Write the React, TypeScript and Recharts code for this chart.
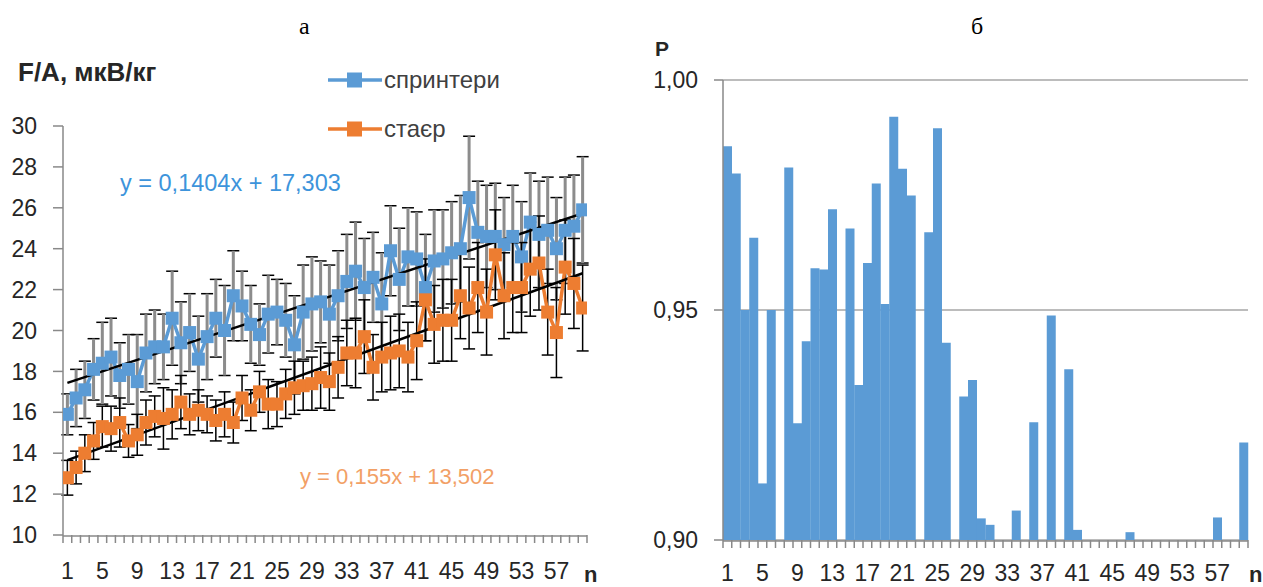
import React from 'react';
import { ComposedChart, Line, XAxis, YAxis, ErrorBar, ReferenceLine, Bar, CartesianGrid } from 'recharts';

// chart а: F/A by n
const sprinters = [15.9, 16.7, 17.1, 18.1, 18.4, 18.7, 17.8, 18.1, 17.5, 18.9, 19.2, 19.2, 20.6, 19.4, 19.9, 18.6, 19.7, 20.6, 20.0, 21.7,
  21.2, 20.3, 19.8, 20.8, 20.9, 20.5, 19.3, 20.9, 21.3, 21.4, 20.8, 21.7, 22.4, 22.9, 22.1, 22.6, 21.3, 23.9, 22.5, 23.6,
  23.5, 22.1, 23.4, 23.5, 23.8, 24.0, 26.5, 24.8, 24.6, 24.6, 24.2, 24.6, 23.6, 25.3, 24.7, 24.9, 24.0, 24.9, 25.1, 25.9];
const sprintersErr = [1.0, 1.4, 1.4, 1.5, 2.0, 1.9, 1.6, 1.7, 2.3, 1.9, 1.8, 1.6, 2.3, 2.0, 1.9, 2.1, 2.1, 1.9, 2.2, 2.2,
  1.7, 1.9, 1.5, 1.9, 1.6, 1.8, 2.4, 2.3, 2.3, 2.0, 2.4, 2.2, 2.3, 2.4, 2.4, 2.2, 2.5, 2.2, 2.5, 2.4,
  2.3, 2.6, 2.5, 2.4, 2.5, 2.6, 3.0, 2.5, 2.5, 2.6, 2.3, 2.5, 2.7, 2.4, 2.6, 2.6, 2.5, 2.6, 2.5, 2.6];
const stayer = [12.8, 13.3, 14.0, 14.6, 15.3, 15.2, 15.5, 14.6, 14.9, 15.5, 15.8, 15.7, 15.9, 16.5, 15.9, 16.1, 15.9, 15.6, 15.9, 15.5,
  16.7, 16.1, 17.0, 16.4, 16.4, 16.9, 17.2, 17.3, 17.4, 17.7, 17.5, 18.2, 18.9, 18.9, 19.7, 18.2, 18.7, 18.9, 19.0, 18.7,
  19.5, 21.5, 20.3, 20.5, 20.5, 21.7, 21.1, 22.1, 20.9, 23.7, 21.7, 22.1, 22.1, 23.0, 23.3, 20.9, 19.9, 23.1, 22.3, 21.1];
const stayerErr = [0.85, 0.8, 0.9, 0.9, 1.0, 1.1, 1.2, 0.8, 1.0, 1.1, 1.0, 1.5, 1.2, 1.3, 1.0, 1.0, 0.9, 1.0, 1.1, 1.0,
  1.1, 1.0, 1.0, 1.2, 1.1, 1.2, 1.3, 1.2, 1.3, 1.5, 1.4, 1.5, 1.6, 1.7, 1.8, 1.6, 1.7, 1.8, 1.8, 1.7,
  1.9, 2.0, 1.9, 2.0, 2.0, 2.1, 2.0, 2.2, 2.1, 2.2, 2.1, 2.2, 2.2, 2.3, 2.3, 2.1, 2.2, 2.3, 2.2, 2.1];
// trend lines, value at n = 1 and n = 60
const sprintersTrend = [17.44, 25.73];
const stayerTrend = [13.66, 22.80];

// chart б: P by n
const pValues = [0.9856, 0.9797, 0.950, 0.9657, 0.9123, 0.950, 0.900, 0.981, 0.9254, 0.9432,
  0.9591, 0.9588, 0.9719, 0.900, 0.9677, 0.9337, 0.9602, 0.9775, 0.9513, 0.992,
  0.9807, 0.9749, 0.900, 0.9669, 0.9895, 0.9429, 0.900, 0.9312, 0.9348, 0.9047,
  0.9033, 0.900, 0.900, 0.9064, 0.900, 0.9256, 0.900, 0.9488, 0.900, 0.9371,
  0.9022, 0.900, 0.900, 0.900, 0.900, 0.900, 0.9017, 0.900, 0.900, 0.900,
  0.900, 0.900, 0.900, 0.900, 0.900, 0.900, 0.9049, 0.900, 0.900, 0.9212];

const nValues = sprinters.map((_, i) => i + 1);
const xLabels = [1, 5, 9, 13, 17, 21, 25, 29, 33, 37, 41, 45, 49, 53, 57];
const xBounds = [0, ...nValues].map((v) => v + 0.5);
const leftTicks = [10, 12, 14, 16, 18, 20, 22, 24, 26, 28, 30];
const rightTicks = [0.9, 0.95, 1.0];

const BLUE = '#5B9BD5';
const ORANGE = '#ED7D31';
const AXIS = '#898989';
const FONT = '"Liberation Sans", Arial, sans-serif';
const tickStyle = { fontSize: 23, fill: '#262626', fontFamily: FONT };

const lineData = nValues.map((n, i) => ({
  n,
  sprinters: sprinters[i],
  sprintersErr: sprintersErr[i],
  stayer: stayer[i],
  stayerErr: stayerErr[i],
}));
const barData = nValues.map((n, i) => ({ n, p: pValues[i] }));

const squareDot = (color: string) => (props: any) => (
  <rect key={`d-${color}-${props.index}`} x={props.cx - 6.5} y={props.cy - 6.5} width={13} height={13} fill={color} />
);

const LegendItem = ({ color, label, top }: { color: string; label: string; top: number }) => (
  <div style={{ position: 'absolute', left: 328, top: top - 14, height: 28, display: 'flex', alignItems: 'center' }}>
    <svg width={54} height={28}>
      <line x1={0} y1={14} x2={54} y2={14} stroke={color} strokeWidth={3.5} />
      <rect x={19} y={6.5} width={15} height={15} fill={color} />
    </svg>
    <span style={{ fontFamily: FONT, fontSize: 24, color: '#404040', marginLeft: 2 }}>{label}</span>
  </div>
);

const abs = (left: number, top: number, extra: React.CSSProperties = {}): React.CSSProperties => ({
  position: 'absolute', left, top, whiteSpace: 'nowrap', lineHeight: 1, ...extra,
});

// small tick marks between categories, like the Excel original
const minorAxis = (
  <XAxis xAxisId="a" type="number" dataKey="n" domain={[0.5, 60.5]} ticks={xBounds} allowDataOverflow interval={0}
    height={1} tickSize={8} axisLine={false} tickLine={{ stroke: AXIS, strokeWidth: 1.5 }} tickFormatter={() => ''} />
);

export default function App() {
  return (
    <div style={{ position: 'absolute', left: 0, top: 0, width: 1263, height: 587, overflow: 'hidden', background: '#fff' }}>
      {/* а */}
      <div style={{ position: 'absolute', left: 0, top: 0 }}>
        <ComposedChart width={640} height={587} data={lineData} margin={{ top: 126, right: 53, bottom: 11, left: 0 }}>
          <XAxis xAxisId="b" type="number" dataKey="n" domain={[0.5, 60.5]} ticks={xLabels} allowDataOverflow
            height={40} tickSize={8} tickMargin={19} tickLine={false} axisLine={{ stroke: AXIS, strokeWidth: 1.5 }}
            tick={tickStyle} interval={0} />
          {minorAxis}
          <YAxis domain={[10, 30]} ticks={leftTicks} width={63} tickSize={10} tickMargin={16} tick={tickStyle}
            axisLine={{ stroke: AXIS, strokeWidth: 1.5 }} tickLine={{ stroke: AXIS, strokeWidth: 1.5 }} interval={0} />
          <Line xAxisId="a" dataKey="sprinters" stroke="none" dot={false} activeDot={false} isAnimationActive={false} />
          <Line xAxisId="b" dataKey="sprinters" stroke={BLUE} strokeWidth={3.5} dot={squareDot(BLUE)}
            activeDot={false} isAnimationActive={false}>
            <ErrorBar dataKey="sprintersErr" direction="y" width={6} stroke="#000" strokeWidth={1.5} />
            <ErrorBar dataKey="sprintersErr" direction="y" width={0} stroke="#8c8c8c" strokeWidth={3} />
          </Line>
          <Line xAxisId="b" dataKey="stayer" stroke={ORANGE} strokeWidth={3.5} dot={squareDot(ORANGE)}
            activeDot={false} isAnimationActive={false}>
            <ErrorBar dataKey="stayerErr" direction="y" width={6} stroke="#000" strokeWidth={1.5} />
          </Line>
          <ReferenceLine xAxisId="b" segment={[{ x: 1, y: sprintersTrend[0] }, { x: 60, y: sprintersTrend[1] }]}
            stroke="#000" strokeWidth={2.5} />
          <ReferenceLine xAxisId="b" segment={[{ x: 1, y: stayerTrend[0] }, { x: 60, y: stayerTrend[1] }]}
            stroke="#000" strokeWidth={2.5} />
        </ComposedChart>
      </div>

      {/* б */}
      <div style={{ position: 'absolute', left: 640, top: 0 }}>
        <ComposedChart width={623} height={587} data={barData} barCategoryGap={0} margin={{ top: 80, right: 15, bottom: 6, left: 0 }}>
          <CartesianGrid vertical={false} stroke="#a6a6a6" strokeWidth={1.5} xAxisId="b" />
          <XAxis xAxisId="b" dataKey="n" height={40} tickSize={8} tickMargin={16} tickLine={false}
            axisLine={{ stroke: AXIS, strokeWidth: 1.5 }} tick={tickStyle} interval={3} />
          {minorAxis}
          <YAxis domain={[0.9, 1.0]} ticks={rightTicks} allowDataOverflow width={83} tickSize={9} tickMargin={16}
            tick={tickStyle} axisLine={{ stroke: AXIS, strokeWidth: 1.5 }} tickLine={{ stroke: AXIS, strokeWidth: 1.5 }}
            tickFormatter={(v: number) => v.toFixed(2).replace('.', ',')} interval={0} />
          <Bar xAxisId="b" dataKey="p" fill={BLUE} isAnimationActive={false} />
          <Line xAxisId="a" dataKey="p" stroke="none" dot={false} activeDot={false} isAnimationActive={false} />
        </ComposedChart>
      </div>

      <div style={abs(299, 14, { fontFamily: '"Liberation Serif", serif', fontSize: 24 })}>а</div>
      <div style={abs(971, 14, { fontFamily: '"Liberation Serif", serif', fontSize: 24 })}>б</div>
      <div style={abs(18, 59, { fontFamily: FONT, fontSize: 26, fontWeight: 'bold', color: '#262626' })}>F/A, мкВ/кг</div>
      <div style={abs(655, 38, { fontFamily: FONT, fontSize: 21, fontWeight: 'bold', color: '#262626' })}>P</div>
      <div style={abs(584, 564, { fontFamily: FONT, fontSize: 22, fontWeight: 'bold', color: '#262626' })}>n</div>
      <div style={abs(1249, 564, { fontFamily: FONT, fontSize: 22, fontWeight: 'bold', color: '#262626' })}>n</div>

      <LegendItem color={BLUE} label="спринтери" top={80} />
      <LegendItem color={ORANGE} label="стаєр" top={129} />

      <div style={abs(120, 172, { fontFamily: FONT, fontSize: 23.5, color: '#3D94DB' })}>y = 0,1404x + 17,303</div>
      <div style={abs(300, 466, { fontFamily: FONT, fontSize: 22, color: '#F2A066' })}>y = 0,155x + 13,502</div>
    </div>
  );
}
